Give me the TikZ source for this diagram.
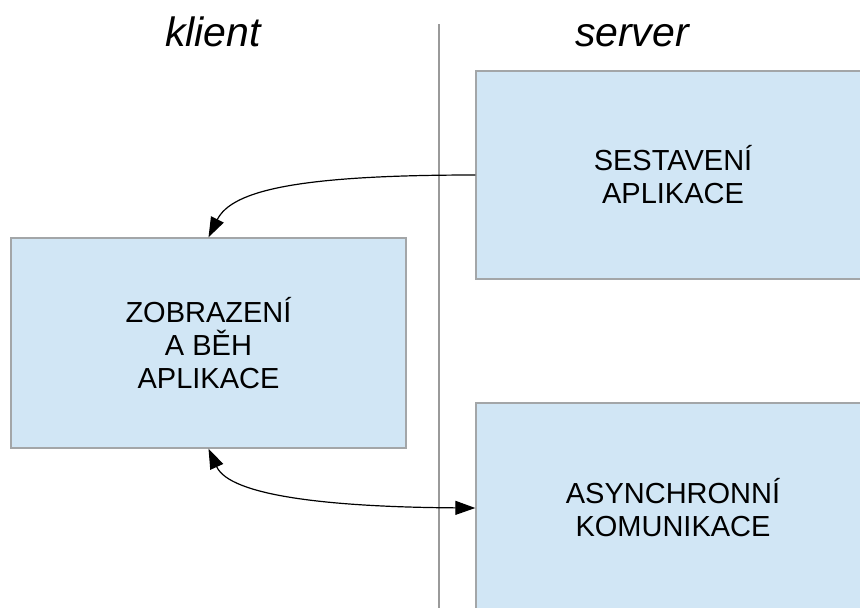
\documentclass[tikz,border=0pt]{standalone}
\usepackage{fontspec}
\setmainfont{Liberation Sans}
\usetikzlibrary{arrows.meta}
\definecolor{boxfill}{HTML}{D1E6F5}
\definecolor{boxline}{HTML}{A3A6A8}
\definecolor{divider}{HTML}{9A9A9A}
\tikzset{
  stage/.style={draw=boxline, line width=1.4pt, fill=boxfill, align=center,
    font=\fontsize{29}{33}\selectfont, inner sep=0pt},
  side/.style={font=\fontsize{41}{44}\selectfont\itshape, anchor=base},
  flow/.style={line width=1.2pt, -{Triangle[length=20pt,width=14pt]}},
  flowboth/.style={line width=1.2pt, {Triangle[length=20pt,width=14pt]}-{Triangle[length=20pt,width=14pt]}}
}
\begin{document}
\begin{tikzpicture}[x=1pt,y=-1pt]
  \useasboundingbox (0,0) rectangle (860,608);
  \clip (0,0) rectangle (860,608);
  % client / server divider
  \coordinate (divtop) at (439,24);
  \coordinate (divbot) at (439,612);
  \draw[divider, line width=1.4pt] (divtop) -- (divbot);
  % column headings
  \node[side] (klient) at (213,46) {klient};
  \node[side] (server) at (632,46) {server};
  % stages
  \node[stage, minimum width=395pt, minimum height=210pt] (zob) at (208.5,343)
    {ZOBRAZENÍ\\A BĚH\\APLIKACE};
  \node[stage, minimum width=394pt, minimum height=208pt] (sest) at (673,175)
    {SESTAVENÍ\\APLIKACE};
  \node[stage, minimum width=394pt, minimum height=210pt] (asyn) at (673,508)
    {ASYNCHRONNÍ\\KOMUNIKACE};
  % connectors
  \draw[flow] (sest.west) .. controls (300,175) and (232,190) .. (zob.north);
  \draw[flowboth] (zob.south) .. controls (230,496) and (330,507) .. (asyn.west);
\end{tikzpicture}
\end{document}
